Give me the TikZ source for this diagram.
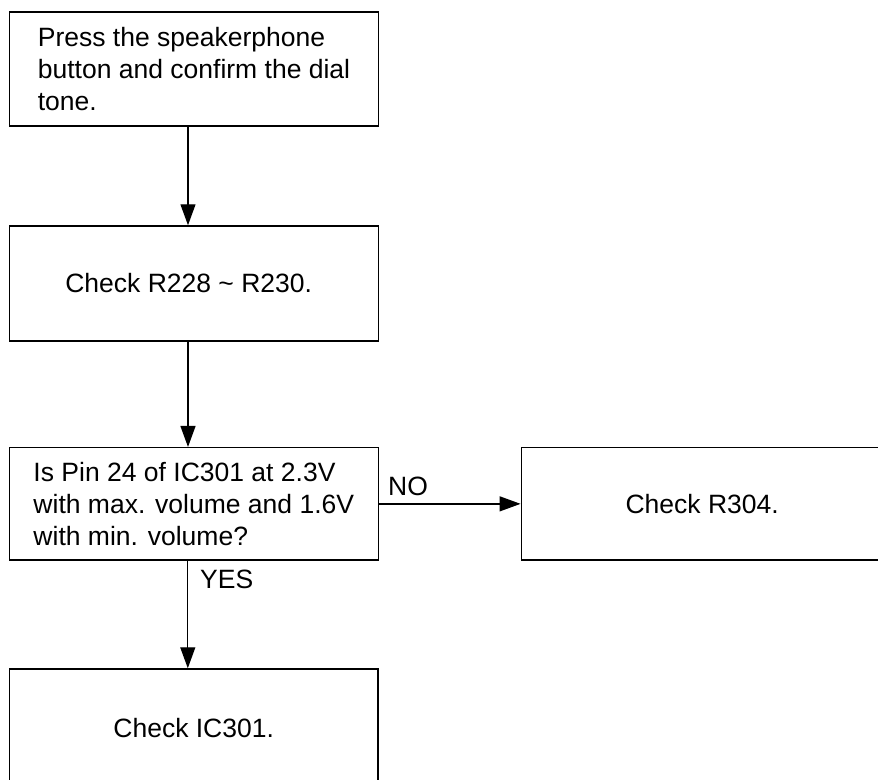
\documentclass[tikz,border=0pt]{standalone}
\usepackage{fontspec}
\setmainfont{Liberation Sans}
\usetikzlibrary{arrows.meta}
\begin{document}
\begin{tikzpicture}[x=1pt,y=-1pt,
  txt/.style={font=\fontsize{26.5}{31.7}\selectfont},
  box/.style={txt, draw, line width=1.5pt, inner sep=0pt, align=left},
  conn/.style={line width=1.3pt, -{Triangle[length=21pt,width=15pt]}},
  lbl/.style={txt, inner sep=0pt}]
\useasboundingbox (0,0) rectangle (878,779);
\node[box, minimum width=369.4pt, minimum height=114pt] (b1) at (194,69)
  {Press the speakerphone\\button and confirm the dial\\tone.};
\node[box, minimum width=369.4pt, minimum height=115pt] (b2) at (194,283.5)
  {\hspace*{-10.6pt}Check R228 \textasciitilde{} R230.};
\node[box, minimum width=369pt, minimum height=112.3pt] (b3) at (193.8,503.85)
  {Is Pin 24 of IC301 at 2.3V\\with max. volume and 1.6V\\with min. volume?};
\node[box, minimum width=361.7pt, minimum height=112.7pt] (b4) at (702.15,503.85)
  {Check R304.};
\node[box, minimum width=368.7pt, minimum height=118pt] (b5) at (193.7,728)
  {Check IC301.};
\node[lbl, anchor=base west] (no) at (388,495) {NO};
\node[lbl, anchor=base west] (yes) at (200,588.3) {YES};
\draw[conn] ([xshift=-6pt]b1.south) -- ([xshift=-6pt]b1.south |- b2.north);
\draw[conn] ([xshift=-6pt]b2.south) -- ([xshift=-6pt]b2.south |- b3.north);
\draw[conn] ([xshift=-6pt]b3.south) -- ([xshift=-6pt]b3.south |- b5.north);
\draw[conn] (b3.east) -- (b4.west);
\end{tikzpicture}
\end{document}
